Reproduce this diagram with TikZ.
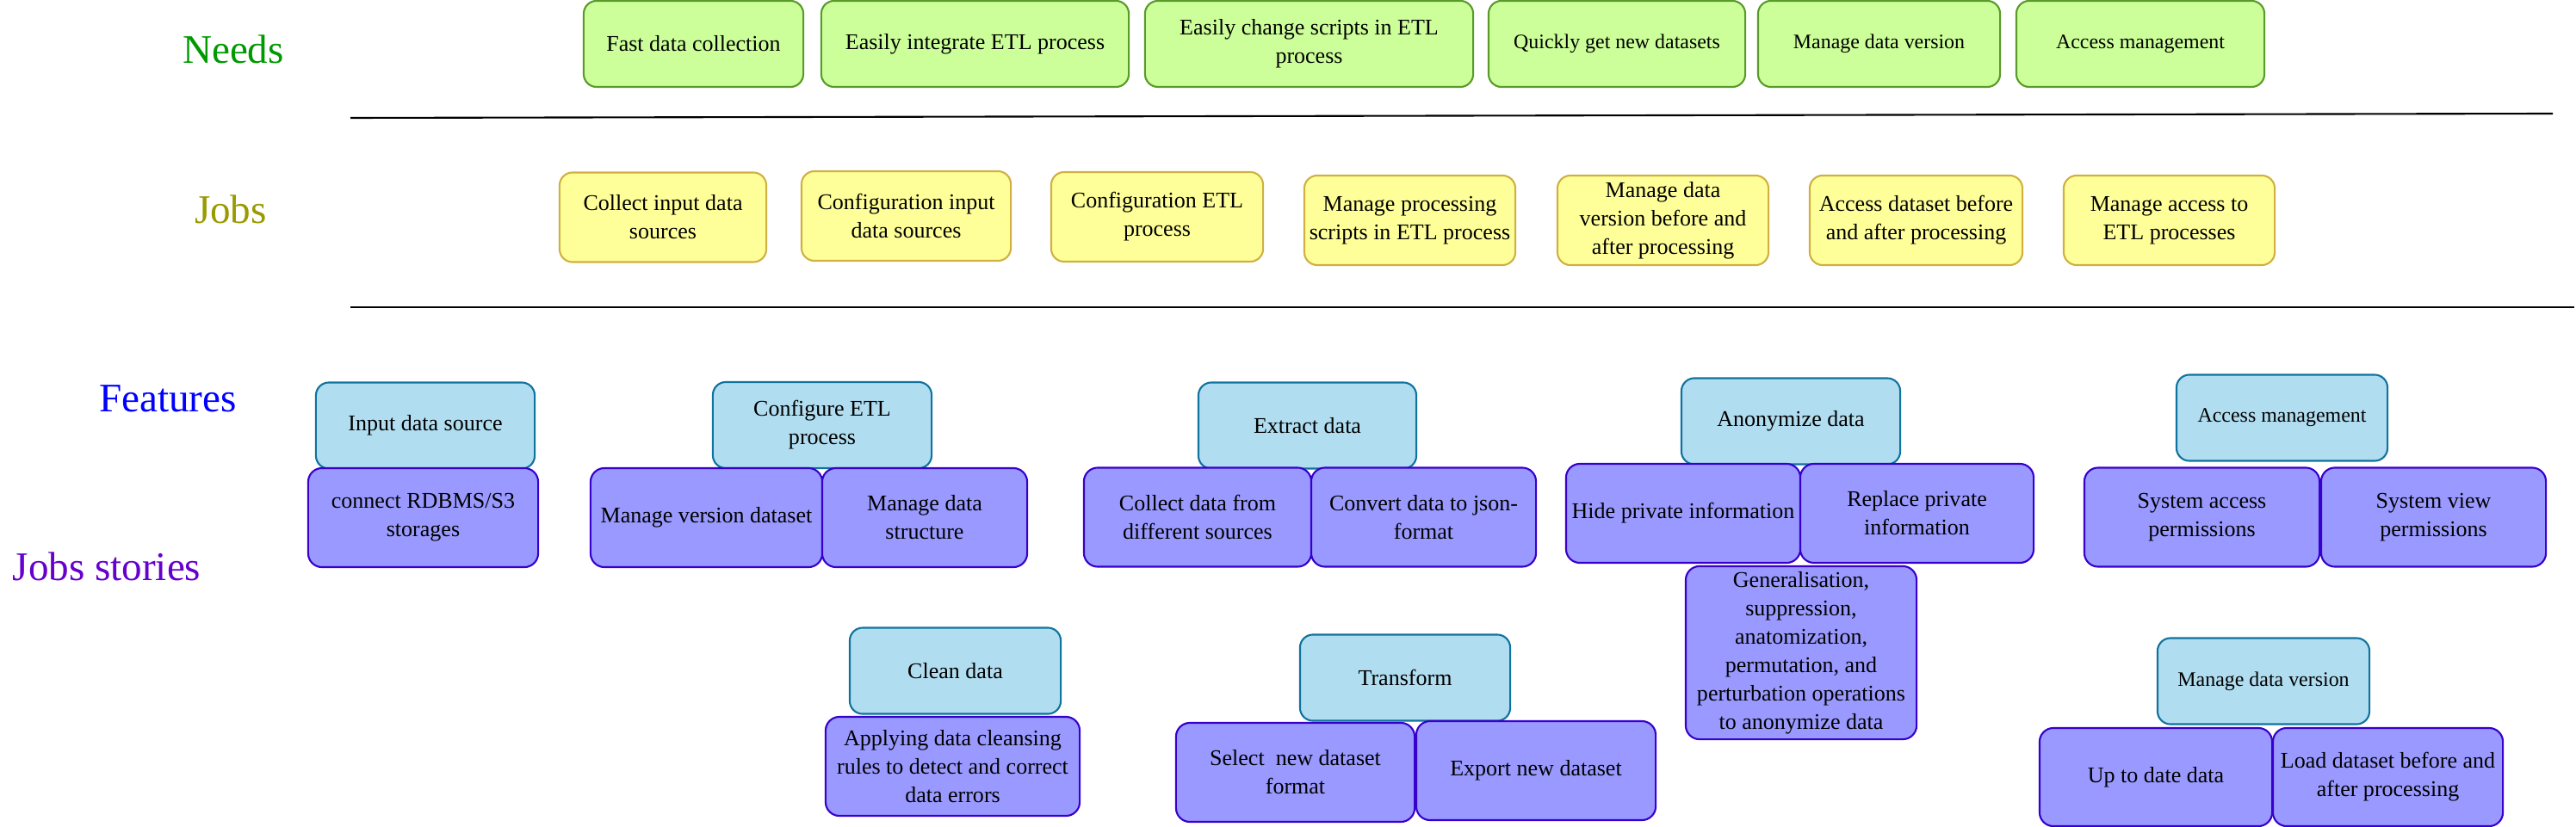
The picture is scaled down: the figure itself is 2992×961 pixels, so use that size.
\documentclass[tikz,border=0pt]{standalone}
\usepackage{fontspec}
\setmainfont{Liberation Serif}
\usepackage{tikz}
\definecolor{needfill}{HTML}{CCFF99}
\definecolor{needline}{HTML}{5A9A2A}
\definecolor{jobfill}{HTML}{FFFF99}
\definecolor{jobline}{HTML}{D0B040}
\definecolor{featfill}{HTML}{B1DDF0}
\definecolor{featline}{HTML}{10739E}
\definecolor{storyfill}{HTML}{9999FF}
\definecolor{storyline}{HTML}{3700CC}
\definecolor{needtext}{HTML}{009900}
\definecolor{jobtext}{HTML}{999900}
\definecolor{feattext}{HTML}{0000FF}
\definecolor{storytext}{HTML}{6600CC}
\newcommand\boxtext{\fontsize{7.4pt}{9.4pt}\selectfont}
\newcommand\smalltext{\fontsize{6.8pt}{8.6pt}\selectfont}
\newcommand\rowtext{\fontsize{13.4pt}{16pt}\selectfont}

\begin{document}
\begin{tikzpicture}[x=0.01cm,y=-0.01cm,
    card/.style={rounded corners=0.15cm,line width=0.6pt,align=center,inner sep=0pt,font=\boxtext},
    need/.style={card,draw=needline,fill=needfill,minimum height=1cm},
    job/.style={card,draw=jobline,fill=jobfill,minimum height=1.04cm},
    feat/.style={card,draw=featline,fill=featfill,minimum height=1cm},
    story/.style={card,draw=storyline,fill=storyfill,minimum height=1.15cm,rounded corners=0.16cm},
    row/.style={font=\rowtext}]
  \useasboundingbox (0,0) rectangle (2992,961);
  % row titles
  \node[row,needtext] (tneeds) at (271,57) {Needs};
  \node[row,jobtext] (tjobs) at (268,243) {Jobs};
  \node[row,feattext] (tfeat) at (195,463) {Features};
  \node[row,storytext] (tstory) at (124,658) {Jobs stories};
  % separators
  \draw[line width=0.6pt] (407,137) -- (2965,132);
  \draw[line width=0.6pt] (407,357) -- (2990,357);
  % needs
  \node[need,minimum width=2.55cm] (n1) at (805.5,51) {Fast data collection};
  \node[need,minimum width=3.57cm] (n2) at (1132.5,51) {Easily integrate ETL process};
  \node[need,minimum width=3.81cm] (n3) at (1520.5,51) {Easily change scripts in ETL\\process};
  \node[need,minimum width=2.98cm,font=\smalltext] (n4) at (1878,51) {Quickly get new datasets};
  \node[need,minimum width=2.81cm,font=\smalltext] (n5) at (2182.5,51) {Manage data version};
  \node[need,minimum width=2.88cm,font=\smalltext] (n6) at (2486,51) {Access management};
  % jobs
  \node[job,minimum width=2.40cm] (j1) at (770,252.5) {Collect input data\\sources};
  \node[job,minimum width=2.43cm] (j2) at (1052.5,251) {Configuration input\\data sources};
  \node[job,minimum width=2.46cm] (j3) at (1344,252) {Configuration ETL\\process};
  \node[job,minimum width=2.45cm] (j4) at (1637.5,256) {Manage processing\\scripts in ETL process};
  \node[job,minimum width=2.45cm] (j5) at (1931.5,256) {Manage data\\version before and\\after processing};
  \node[job,minimum width=2.47cm] (j6) at (2225.5,256) {Access dataset before\\and after processing};
  \node[job,minimum width=2.45cm] (j7) at (2519.5,256) {Manage access to\\ETL processes};
  % features
  \node[feat,minimum width=2.54cm] (f1) at (494,494.5) {Input data source};
  \node[feat,minimum width=2.54cm] (f2) at (955,494) {Configure ETL\\process};
  \node[feat,minimum width=2.53cm] (f3) at (1518.5,494.5) {Extract data};
  \node[feat,minimum width=2.54cm] (f4) at (2080,489.5) {Anonymize data};
  \node[feat,minimum width=2.45cm,font=\smalltext] (f5) at (2650.5,485.5) {Access management};
  \node[feat,minimum width=2.45cm] (f6) at (1109.5,779.5) {Clean data};
  \node[feat,minimum width=2.44cm] (f7) at (1632,787.5) {Transform};
  \node[feat,minimum width=2.46cm,font=\smalltext] (f8) at (2629,791.5) {Manage data version};
  % job stories
  \node[story,minimum width=2.67cm] (s1) at (491.5,601.5) {connect RDBMS/S3\\storages};
  \node[story,minimum width=2.69cm] (s2) at (820.5,601.5) {Manage version dataset};
  \node[story,minimum width=2.38cm] (s3) at (1074,601.5) {Manage data\\structure};
  \node[story,minimum width=2.64cm] (s4) at (1391,601) {Collect data from\\different sources};
  \node[story,minimum width=2.61cm] (s5) at (1653.5,601) {Convert data to json-\\format};
  \node[story,minimum width=2.72cm] (s6) at (1955,596.5) {Hide private information};
  \node[story,minimum width=2.71cm] (s7) at (2226.5,596.5) {Replace private\\information};
  \node[story,minimum width=2.68cm,minimum height=2.01cm] (s8) at (2092,758.5)
    {Generalisation,\\suppression,\\anatomization,\\permutation, and\\perturbation operations\\to anonymize data};
  \node[story,minimum width=2.73cm] (s9) at (2557.5,601) {System access\\permissions};
  \node[story,minimum width=2.61cm] (s10) at (2826.5,601) {System view\\permissions};
  \node[story,minimum width=2.95cm] (s11) at (1106.5,890.5) {Applying data cleansing\\rules to detect and correct\\data errors};
  \node[story,minimum width=2.77cm] (s12) at (1504.5,897.5) {Select\ \ new dataset\\format};
  \node[story,minimum width=2.78cm] (s13) at (1784,895.5) {Export new dataset};
  \node[story,minimum width=2.70cm,minimum height=1.14cm] (s14) at (2504,903) {Up to date data};
  \node[story,minimum width=2.67cm,minimum height=1.14cm] (s15) at (2773.5,903) {Load dataset before and\\after processing};
\end{tikzpicture}
\end{document}
